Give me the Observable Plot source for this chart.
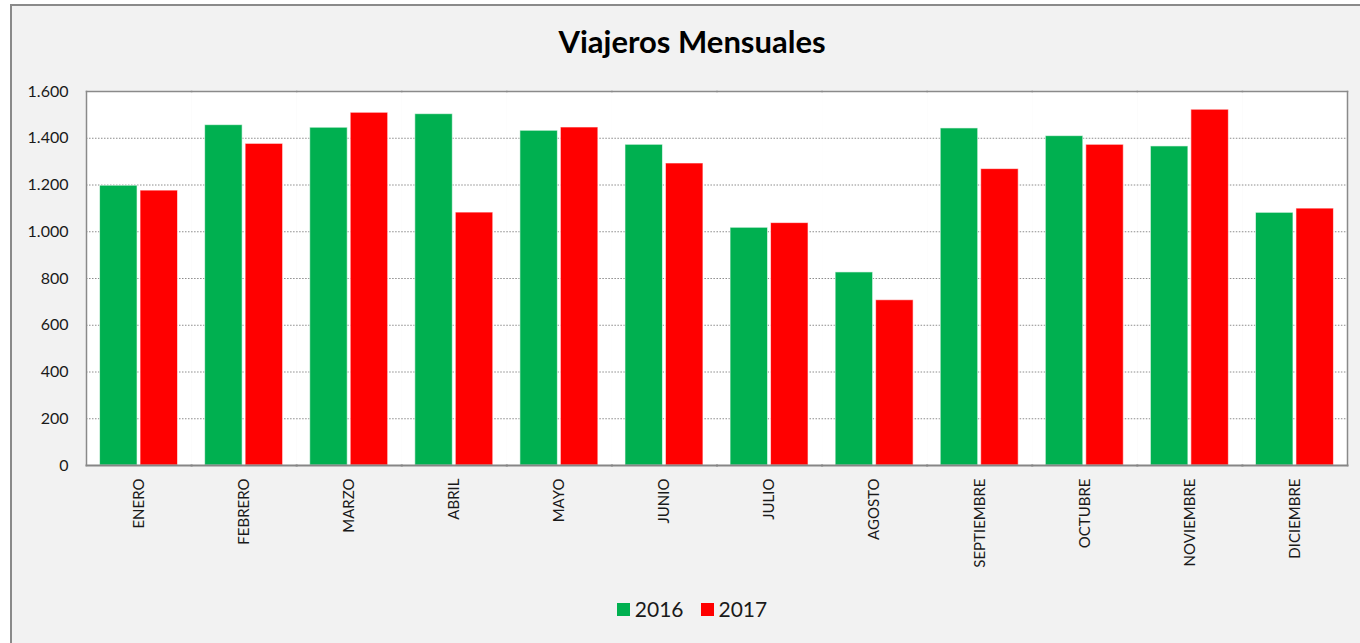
<!DOCTYPE html>
<html>
<head>
<meta charset="utf-8">
<script src="https://cdn.jsdelivr.net/npm/d3@7"></script>
<script src="https://cdn.jsdelivr.net/npm/@observablehq/plot@0.6"></script>
<style>
  html, body { margin: 0; padding: 0; background: #ffffff; width: 1360px; height: 643px; overflow: hidden; }
  #box { position: absolute; left: 10px; top: 4px; width: 1366px; height: 660px; background: #f2f2f2; border: 2px solid #8a8a8a; box-sizing: border-box; }
  #title { position: absolute; left: 0; width: 1384px; top: 26px; text-align: center; font: bold 31px Lato, sans-serif; line-height: 31px; color: #000; }
  #chart { position: absolute; left: 0; top: 0; }
  #legend { position: absolute; left: 0; width: 1384px; top: 597px; display: flex; justify-content: center; gap: 17px; font: 21px Lato, sans-serif; color: #1a1a1a; line-height: 24px; }
  #legend .item { display: flex; align-items: center; gap: 5px; }
  #legend .sw { width: 13px; height: 13px; display: inline-block; }
</style>
</head>
<body>
<div id="box"></div>
<div id="chart"></div>
<div id="title">Viajeros Mensuales</div>
<div id="legend"></div>
<script>
const months = ["ENERO", "FEBRERO", "MARZO", "ABRIL", "MAYO", "JUNIO", "JULIO", "AGOSTO", "SEPTIEMBRE", "OCTUBRE", "NOVIEMBRE", "DICIEMBRE"];
const years = ["2016", "2017"];
const v2016 = [1197, 1456, 1445, 1503, 1432, 1372, 1017, 826, 1442, 1409, 1365, 1081];
const v2017 = [1176, 1376, 1509, 1082, 1446, 1292, 1037, 707, 1268, 1372, 1522, 1099];
const yTicks = [0, 200, 400, 600, 800, 1000, 1200, 1400, 1600];
const colors = ["#00b050", "#ff0000"];

const rows = months.flatMap((m, i) => [
  {month: m, year: years[0], value: v2016[i]},
  {month: m, year: years[1], value: v2017[i]}
]);

const fmt = d3.formatLocale({decimal: ",", thousands: ".", grouping: [3]}).format(",d");
const borderColor = "#8a8a8a";

const chart = Plot.plot({
  width: 1360,
  height: 590,
  marginLeft: 86,
  marginRight: 13,
  marginTop: 91,
  marginBottom: 125,
  style: {background: "transparent", fontFamily: "Lato, sans-serif", color: "#1a1a1a", overflow: "visible"},
  fx: {domain: months, padding: 0, round: false, label: null},
  x: {domain: years, paddingInner: 0.074, paddingOuter: 0.335, round: false, axis: null},
  y: {domain: [0, 1600], label: null},
  color: {domain: years, range: colors},
  marks: [
    Plot.frame({fill: "white", stroke: null}),
    Plot.gridY(yTicks.filter(t => t > 0 && t < 1600), {stroke: "#8c8c8c", strokeOpacity: 1, strokeDasharray: "1.5,1.5"}),
    Plot.barY(rows, {fx: "month", x: "year", y: "value", fill: "year", stroke: "white", strokeWidth: 1, strokeOpacity: 0.6}),
    Plot.frame({anchor: "top", stroke: borderColor, strokeWidth: 1.5}),
    Plot.frame({anchor: "bottom", stroke: "#868686", strokeWidth: 2}),
    Plot.frame({anchor: "left", facetAnchor: "left", stroke: borderColor, strokeWidth: 1.5}),
    Plot.frame({anchor: "right", facetAnchor: "right", stroke: borderColor, strokeWidth: 1.5}),
    Plot.axisY({ticks: yTicks, tickFormat: fmt, tickSize: 0, tickPadding: 18, fontSize: 16, label: null}),
    Plot.axisFx({anchor: "bottom", tickRotate: -90, tickSize: 0, tickPadding: 13, fontSize: 15, label: null})
  ]
});
document.getElementById("chart").appendChild(chart);

const legend = document.getElementById("legend");
years.forEach((y, i) => {
  const item = document.createElement("div");
  item.className = "item";
  const sw = document.createElement("span");
  sw.className = "sw";
  sw.style.background = colors[i];
  const t = document.createElement("span");
  t.textContent = y;
  item.appendChild(sw);
  item.appendChild(t);
  legend.appendChild(item);
});
</script>
</body>
</html>
